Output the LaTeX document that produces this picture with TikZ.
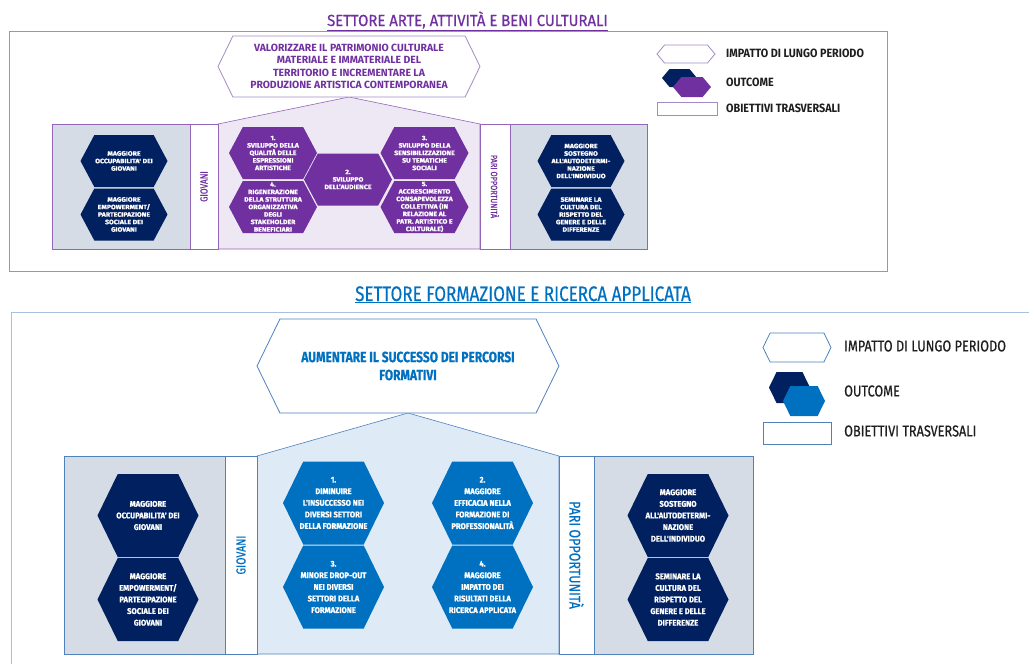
\documentclass[tikz,border=0pt]{standalone}
\usepackage{fontspec}
\setmainfont{Fira Sans}
\newfontfamily\hexfont[FakeStretch=1.1,FakeBold=1.2]{Fira Sans}
\newfontfamily\bighexfont[FakeStretch=0.93,FakeBold=1]{Fira Sans}
\newfontfamily\titlefont[FakeStretch=0.81,FakeBold=0.5]{Fira Sans}
\newfontfamily\wtitlefont[FakeStretch=0.93,FakeBold=0.6]{Fira Sans}
\newfontfamily\legfont[FakeStretch=0.9]{Fira Sans}
\usetikzlibrary{shapes.symbols}

\definecolor{artpurple}{HTML}{7030A0}
\definecolor{navyhex}{HTML}{002060}
\definecolor{formblue}{HTML}{0070C0}
\definecolor{lilacline}{HTML}{A48BC4}
\definecolor{lilacfill}{HTML}{EEE8F4}
\definecolor{skyline}{HTML}{A9C1DD}
\definecolor{boxblue}{HTML}{4F81BD}
\definecolor{skyfill}{HTML}{DEEBF7}
\definecolor{slate}{HTML}{D6DCE5}
\definecolor{legtext}{HTML}{1E1E1E}

\begin{document}
\begin{tikzpicture}
  [x=1pt,y=-1pt,
    hex/.style={signal,signal to=east and west,signal pointer angle=128,
      inner sep=0pt,outer sep=0pt},
    smallhex/.style={hex,signal pointer angle=124,minimum width=88,minimum height=52},
    bighex/.style={hex,minimum width=101,minimum height=83},
    hextxt/.style={text=white,align=center,inner sep=0pt,
      font=\hexfont\bfseries\fontsize{6.3}{7.5}\selectfont},
    bighextxt/.style={hextxt,font=\bighexfont\bfseries\fontsize{8.2}{11.6}\selectfont},
    artbox/.style={draw=artpurple!75,line width=0.6pt},
    formbox/.style={draw=boxblue,line width=0.6pt},
    strip/.style={fill=white,line width=0.6pt,inner sep=0pt,outer sep=0pt},
    legtxt/.style={anchor=west,inner sep=0pt,text=legtext},
  ]
  \useasboundingbox (0,0) rectangle (1029,664);

  %% arte, attivita e beni culturali
  \node[anchor=base,text=artpurple,font=\wtitlefont\fontsize{16}{16}\selectfont]
    (artT) at (467.5,26) {\underline{SETTORE ARTE, ATTIVITÀ E BENI CULTURALI}};
  \draw[lilacline,line width=0.8pt] (9,31)--(887,31)--(887,271)--(9,271)--cycle;

  \draw[artbox,fill=slate] (52,124)--(190,124)--(190,249)--(52,249)--cycle;
  \draw[artbox,fill=slate] (510,124)--(647,124)--(647,249)--(510,249)--cycle;
  \draw[artbox,fill=lilacfill] (218,249)--(218,124)--(349,97)--(480,124)--(480,249)--cycle;
  \node[strip,artbox,rotate=90,minimum width=125,minimum height=28,text=artpurple,
    font=\titlefont\fontsize{10.2}{10.2}\selectfont] (giovA) at (204,186.5) {GIOVANI};
  \node[strip,artbox,rotate=-90,minimum width=125,minimum height=30,text=artpurple,
    font=\titlefont\fontsize{9.1}{9.1}\selectfont] (pariA) at (495,186.5) {PARI OPPORTUNITÀ};

  \node[hex,draw=lilacline,fill=white,line width=0.8pt,minimum width=262,minimum height=61,
    text=artpurple,align=center,font=\bfseries\fontsize{10.4}{12.3}\selectfont]
    (valA) at (349,66.5) {VALORIZZARE IL PATRIMONIO CULTURALE\\MATERIALE E IMMATERIALE DEL\\
    TERRITORIO E INCREMENTARE LA\\PRODUZIONE ARTISTICA CONTEMPORANEA};

  % outcome
  \node[smallhex,fill=artpurple] (svA) at (273,153) {};
  \node[smallhex,fill=artpurple] (rigA) at (273,207) {};
  \node[smallhex,fill=artpurple] (audA) at (348,179.5) {};
  \node[smallhex,fill=artpurple] (sensA) at (424.5,153) {};
  \node[smallhex,fill=artpurple] (accA) at (424.5,207) {};
  \node[hextxt] (svAt) at (svA) {1.\\SVILUPPO DELLA\\QUALITÀ DELLE\\ESPRESSIONI\\ARTISTICHE};
  \node[hextxt] (rigAt) at (rigA) {4.\\RIGENERAZIONE\\DELLA STRUTTURA\\ORGANIZZATIVA\\DEGLI\\STAKEHOLDER\\BENEFICIARI};
  \node[hextxt] (audAt) at (audA) {2.\\SVILUPPO\\DELL’AUDIENCE};
  \node[hextxt] (sensAt) at (sensA) {3.\\SVILUPPO DELLA\\SENSIBILIZZAZIONE\\SU TEMATICHE\\SOCIALI};
  \node[hextxt] (accAt) at (accA) {5.\\ACCRESCIMENTO\\CONSAPEVOLEZZA\\COLLETTIVA (IN\\RELAZIONE AL\\PATR. ARTISTICO E\\CULTURALE)};

  \node[smallhex,fill=navyhex,minimum width=87] (occA) at (124,161) {};
  \node[smallhex,fill=navyhex,minimum width=87] (empA) at (124,214.5) {};
  \node[smallhex,fill=navyhex,minimum width=87] (sosA) at (581,161) {};
  \node[smallhex,fill=navyhex,minimum width=87] (semA) at (581,214.5) {};
  \node[hextxt] (occAt) at (occA) {MAGGIORE\\OCCUPABILITA' DEI\\GIOVANI};
  \node[hextxt] (empAt) at (empA) {MAGGIORE\\EMPOWERMENT/\\PARTECIPAZIONE\\SOCIALE DEI\\GIOVANI};
  \node[hextxt] (sosAt) at (sosA) {MAGGIORE\\SOSTEGNO\\ALL'AUTODETERMI-\\NAZIONE\\DELL'INDIVIDUO};
  \node[hextxt] (semAt) at (semA) {SEMINARE LA\\CULTURA DEL\\RISPETTO DEL\\GENERE E DELLE\\DIFFERENZE};

  % legenda
  \node[hex,signal pointer angle=100,draw=lilacline,fill=white,line width=0.8pt,
    minimum width=58,minimum height=18] (impA) at (686,54) {};
  \node[hex,signal pointer angle=100,fill=navyhex,minimum width=35,minimum height=18] (outA) at (679.5,78) {};
  \node[hex,signal pointer angle=100,fill=artpurple,minimum width=38,minimum height=20] (outA2) at (692,87) {};
  \node[draw=lilacline,line width=0.8pt,minimum width=60,minimum height=13,inner sep=0pt] (obA) at (687,108.5) {};
  \begin{scope}[font=\legfont\bfseries\fontsize{12}{12}\selectfont]
    \node[legtxt] (impAt) at (726,53) {IMPATTO DI LUNGO PERIODO};
    \node[legtxt] (outAt) at (726,82) {OUTCOME};
    \node[legtxt] (obAt) at (726,108) {OBIETTIVI TRASVERSALI};
  \end{scope}

  %% formazione e ricerca applicata
  \node[anchor=base,text=formblue,font=\titlefont\fontsize{21}{21}\selectfont]
    (formT) at (523,301) {\underline{SETTORE FORMAZIONE E RICERCA APPLICATA}};
  \draw[skyline,line width=1pt] (1029,312)--(11,312)--(11,664);

  \draw[formbox,fill=slate] (64,456)--(225,456)--(225,654)--(64,654)--cycle;
  \draw[formbox,fill=slate] (594,456)--(753,456)--(753,654)--(594,654)--cycle;
  \draw[formbox,fill=skyfill] (257,654)--(257,456)--(408,413)--(559,456)--(559,654)--cycle;
  \node[strip,formbox,rotate=90,minimum width=198,minimum height=32,text=formblue,
    font=\titlefont\fontsize{13}{13}\selectfont] (giovB) at (241,555) {GIOVANI};
  \node[strip,formbox,rotate=-90,minimum width=198,minimum height=35,text=formblue,
    font=\titlefont\fontsize{15.5}{15.5}\selectfont] (pariB) at (576.5,555) {PARI OPPORTUNITÀ};

  \node[hex,draw=boxblue,fill=white,line width=0.8pt,minimum width=302,minimum height=94,
    text=formblue,align=center,font=\titlefont\bfseries\fontsize{14.8}{18}\selectfont]
    (aumB) at (408,366) {AUMENTARE IL SUCCESSO DEI PERCORSI\\FORMATIVI};

  % outcome
  \node[bighex,fill=formblue] (dimB) at (333.5,503) {};
  \node[bighex,fill=formblue] (dropB) at (333.5,587) {};
  \node[bighex,fill=formblue] (effB) at (482.5,503) {};
  \node[bighex,fill=formblue] (impB) at (482.5,587) {};
  \node[bighextxt] (dimBt) at (dimB) {1.\\DIMINUIRE\\L'INSUCCESSO NEI\\DIVERSI SETTORI\\DELLA FORMAZIONE};
  \node[bighextxt] (dropBt) at (dropB) {3.\\MINORE DROP-OUT\\NEI DIVERSI\\SETTORI DELLA\\FORMAZIONE};
  \node[bighextxt] (effBt) at (effB) {2.\\MAGGIORE\\EFFICACIA NELLA\\FORMAZIONE DI\\PROFESSIONALITÀ};
  \node[bighextxt] (impBt) at (impB) {4.\\MAGGIORE\\IMPATTO DEI\\RISULTATI DELLA\\RICERCA APPLICATA};

  \node[bighex,fill=navyhex] (occB) at (148,515.5) {};
  \node[bighex,fill=navyhex] (empB) at (148,599.5) {};
  \node[bighex,fill=navyhex] (sosB) at (678,515.5) {};
  \node[bighex,fill=navyhex] (semB) at (678,599.5) {};
  \node[bighextxt] (occBt) at (occB) {MAGGIORE\\OCCUPABILITA' DEI\\GIOVANI};
  \node[bighextxt] (empBt) at (empB) {MAGGIORE\\EMPOWERMENT/\\PARTECIPAZIONE\\SOCIALE DEI\\GIOVANI};
  \node[bighextxt] (sosBt) at (sosB) {MAGGIORE\\SOSTEGNO\\ALL'AUTODETERMI-\\NAZIONE\\DELL'INDIVIDUO};
  \node[bighextxt] (semBt) at (semB) {SEMINARE LA\\CULTURA DEL\\RISPETTO DEL\\GENERE E DELLE\\DIFFERENZE};

  % legenda
  \node[hex,draw=boxblue,fill=white,line width=0.8pt,minimum width=68,minimum height=29] (impL) at (797,347.5) {};
  \node[hex,fill=navyhex,minimum width=41,minimum height=31] (outL) at (789.5,387.5) {};
  \node[hex,fill=formblue,minimum width=42,minimum height=30] (outL2) at (804,401) {};
  \node[draw=boxblue,line width=0.8pt,minimum width=68,minimum height=22,inner sep=0pt] (obL) at (797,433) {};
  \begin{scope}[font=\titlefont\fontsize{15.7}{15.7}\selectfont]
    \node[legtxt] (impLt) at (844,346) {IMPATTO DI LUNGO PERIODO};
    \node[legtxt] (outLt) at (844,391) {OUTCOME};
    \node[legtxt] (obLt) at (844,431) {OBIETTIVI TRASVERSALI};
  \end{scope}

\end{tikzpicture}
\end{document}
